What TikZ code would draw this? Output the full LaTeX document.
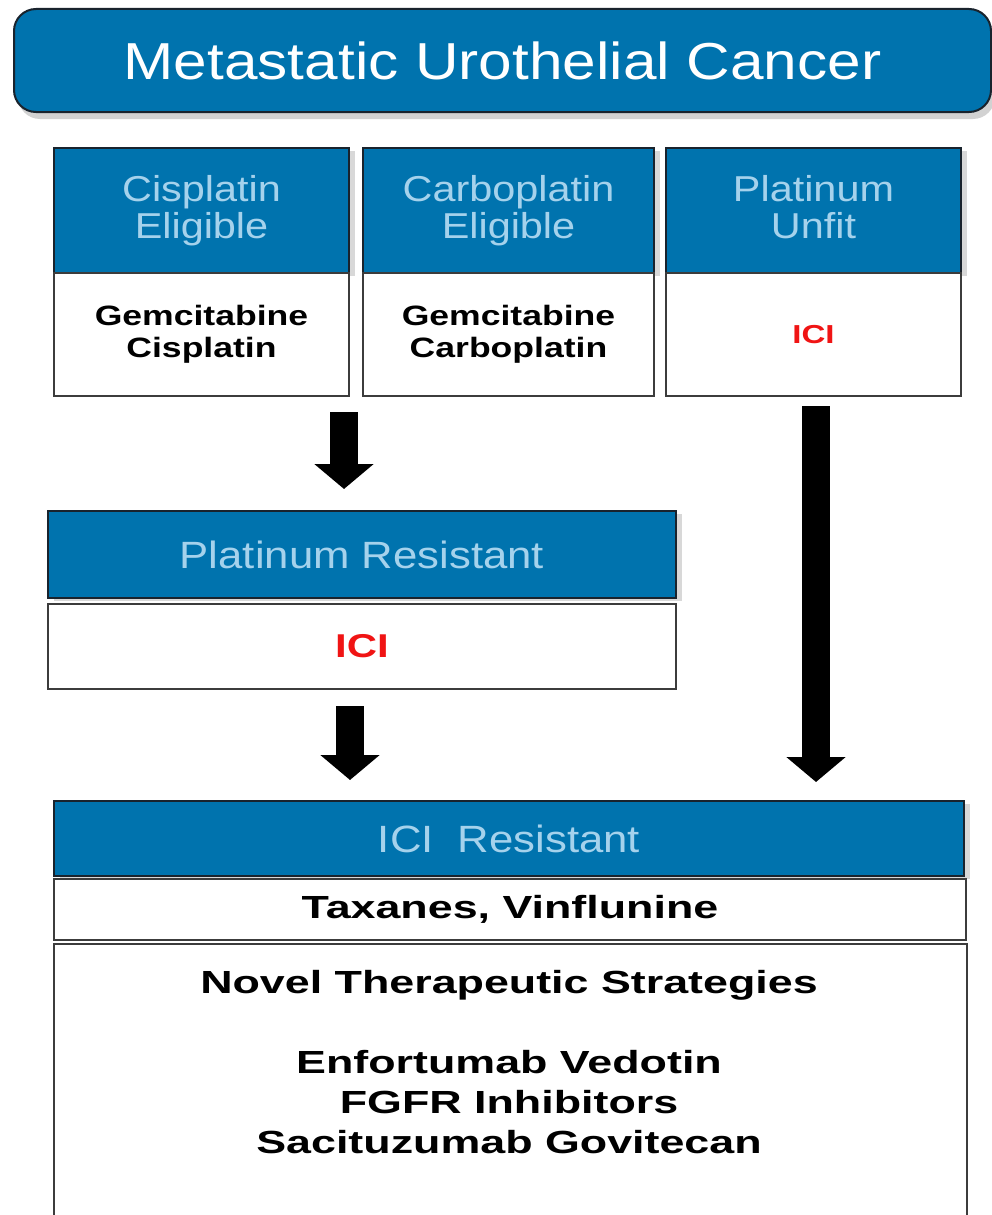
\documentclass[tikz,border=0pt]{standalone}
\usepackage{fontspec}
\setmainfont{Liberation Sans}
\newfontfamily\titlefont[FakeStretch=1.16]{Liberation Sans}
\newfontfamily\headfont[FakeStretch=1.15]{Liberation Sans}
\newfontfamily\bodyfont[FakeStretch=1.27]{Liberation Sans}
\newfontfamily\widefont[FakeStretch=1.4]{Liberation Sans}
\usetikzlibrary{arrows.meta,shadows}
\definecolor{mublue}{RGB}{0,115,174}
\definecolor{hdtext}{RGB}{165,210,236}
\definecolor{hdline}{RGB}{25,35,45}
\definecolor{bxline}{RGB}{60,60,60}
\definecolor{icired}{RGB}{240,20,20}
\tikzset{
  titlebox/.style={draw=hdline, line width=2pt, fill=mublue, text=white, rounded corners=22pt,
    inner sep=0pt, anchor=north west,
    drop shadow={shadow xshift=4pt, shadow yshift=-7pt, opacity=0.35},
    font={\titlefont\fontsize{52}{56}\selectfont}},
  hdr/.style={draw=hdline, line width=2pt, fill=mublue, text=hdtext, inner sep=0pt,
    align=center, anchor=north west,
    drop shadow={shadow xshift=6pt, shadow yshift=-3pt, opacity=0.3},
    font={\headfont\fontsize{36}{37}\selectfont}},
  bodybox/.style={draw=bxline, line width=2pt, fill=white, inner sep=0pt, align=center,
    anchor=north west, font={\bodyfont\bfseries\fontsize{28}{32}\selectfont}},
  widebox/.style={draw=bxline, line width=2pt, fill=white, inner sep=0pt, align=center,
    anchor=north west, font={\widefont\bfseries\fontsize{32}{40}\selectfont}},
  widetext/.style={inner sep=0pt, align=center, font={\widefont\bfseries\fontsize{32}{40}\selectfont}},
  icitext/.style={text=icired},
  bigarrow/.style={line width=28pt, draw=black, -{Triangle[width=58pt,length=25pt]}},
}
\begin{document}
\begin{tikzpicture}[x=1pt,y=-1pt]
\useasboundingbox (0,0) rectangle (992,1215);
\fill[white] (0,0) rectangle (992,1215);

% title
\node[titlebox, minimum width=977pt, minimum height=103pt] (title) at (13,8) {Metastatic Urothelial Cancer};

% three columns
\node[hdr, minimum width=295pt, minimum height=125pt] (h1) at (53,147) {Cisplatin\\Eligible};
\node[bodybox, minimum width=295pt, minimum height=123pt] (b1) at (53,272) {Gemcitabine\\Cisplatin};

\node[hdr, minimum width=291pt, minimum height=125pt] (h2) at (362,147) {Carboplatin\\Eligible};
\node[bodybox, minimum width=291pt, minimum height=123pt] (b2) at (362,272) {Gemcitabine\\Carboplatin};

\node[hdr, minimum width=295pt, minimum height=125pt] (h3) at (665,147) {Platinum\\Unfit\vphantom{g}};
\node[bodybox, minimum width=295pt, minimum height=123pt, icitext,
  font={\bodyfont\bfseries\fontsize{26}{30}\selectfont}] (b3) at (665,272) {ICI};

% platinum resistant
\node[hdr, minimum width=628pt, minimum height=87pt,
  font={\headfont\fontsize{38}{40}\selectfont}] (h4) at (47,510) {Platinum Resistant};
\node[bodybox, minimum width=628pt, minimum height=85pt, icitext,
  font={\bodyfont\bfseries\fontsize{33}{36}\selectfont}] (b4) at (47,603) {ICI};

% ICI resistant
\node[hdr, minimum width=910pt, minimum height=75pt,
  font={\headfont\fontsize{38}{40}\selectfont}] (h5) at (53,800) {ICI\ \ Resistant};
\node[widebox, minimum width=912pt, minimum height=61pt] (b5) at (53,878) {Taxanes, Vinflunine};
\node[widebox, minimum width=913pt, minimum height=300pt] (b6) at (53,943) {};
\node[widetext] (t6) at (509,1062) {Novel Therapeutic Strategies\\ \\Enfortumab Vedotin\\FGFR Inhibitors\\Sacituzumab Govitecan};

% arrows
\coordinate (a1s) at (344,412);
\coordinate (a1e) at (344,489);
\coordinate (a2s) at (350,706);
\coordinate (a2e) at (350,780);
\coordinate (a3s) at (816,406);
\coordinate (a3e) at (816,782);
\draw[bigarrow] (a1s) -- (a1e);
\draw[bigarrow] (a2s) -- (a2e);
\draw[bigarrow] (a3s) -- (a3e);
\end{tikzpicture}
\end{document}
